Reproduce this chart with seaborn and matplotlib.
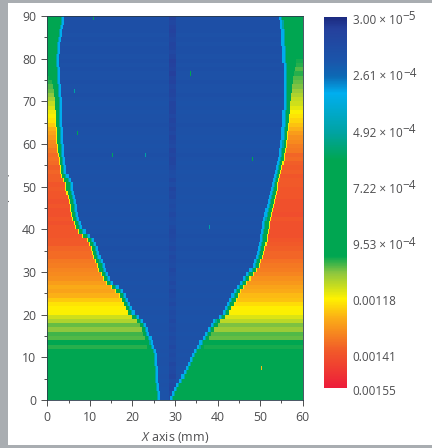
import numpy as np
import seaborn as sns
import matplotlib

matplotlib.use("Agg")
import matplotlib.pyplot as plt
from matplotlib.colors import LinearSegmentedColormap
from matplotlib.patches import Rectangle
from matplotlib.transforms import ScaledTranslation

# all values below are in units of 1e-4, rows are 1 mm bands from y = 0 up to y = 89
left_edge = [26.6, 26.5, 26.3, 26.2, 26.1, 26.0, 26.0, 25.9, 25.8, 25.8,
             25.7, 25.4, 25.1, 24.8, 24.5, 24.1, 23.7, 23.2, 22.5, 21.5,
             20.6, 20.1, 19.5, 19.0, 18.4, 17.8, 16.8, 15.5, 14.8, 14.3,
             13.8, 13.4, 13.0, 12.6, 12.3, 12.0, 11.5, 10.9, 10.0, 9.0,
             8.3, 7.9, 7.6, 7.3, 7.1, 6.9, 6.7, 6.5, 6.3, 6.1,
             5.9, 5.4, 4.9, 4.6, 4.4, 4.3, 4.2, 4.1, 4.0, 3.9,
             3.8, 3.8, 3.7, 3.7, 3.6, 3.6, 3.5, 3.5, 3.4, 3.4,
             3.4, 3.3, 3.2, 3.2, 3.1, 3.0, 2.9, 2.9, 2.8, 2.8,
             2.8, 2.9, 3.0, 3.1, 3.3, 3.4, 3.6, 3.8, 4.0, 4.1]
right_edge = [28.8, 29.3, 29.8, 30.3, 30.9, 31.5, 32.0, 32.6, 33.1, 33.5,
              33.9, 34.5, 35.2, 35.8, 36.4, 37.0, 37.7, 38.4, 39.0, 40.3,
              41.3, 41.8, 42.3, 42.8, 43.3, 43.7, 44.5, 45.3, 46.0, 46.8,
              47.6, 48.2, 48.6, 48.9, 49.2, 49.5, 49.7, 49.9, 50.1, 50.3,
              50.4, 50.6, 50.8, 51.1, 51.3, 51.5, 51.8, 52.0, 52.2, 52.5,
              52.7, 53.0, 53.3, 53.6, 53.8, 54.0, 54.2, 54.4, 54.6, 54.7,
              54.8, 54.9, 55.0, 55.1, 55.2, 55.3, 55.3, 55.3, 55.4, 55.4,
              55.4, 55.4, 55.4, 55.4, 55.4, 55.4, 55.4, 55.4, 55.4, 55.3,
              55.3, 55.3, 55.2, 55.1, 55.1, 55.0, 54.9, 54.8, 54.7, 54.6]
left_band = [1.5, 1.5, 1.5, 1.5, 1.5, 1.5, 1.5, 1.5, 1.5, 1.5,
             1.5, 1.5, 1.5, 1.5, 1.5, 1.5, 1.5, 1.5, 1.5, 1.5,
             1.5, 1.5, 1.5, 1.5, 1.5, 1.5, 1.5, 1.5, 1.5, 1.5,
             1.5, 1.5, 1.5, 1.5, 1.5, 1.5, 1.5, 1.5, 1.5, 1.5,
             1.5, 1.5, 1.5, 1.5, 1.5, 1.5, 1.5, 1.5, 1.5, 1.5,
             1.5, 1.4, 1.3, 1.3, 1.2, 1.2, 1.2, 1.3, 1.4, 1.5,
             1.5, 1.5, 1.5, 1.5, 1.5, 1.5, 1.5, 1.5, 1.6, 1.6,
             1.6, 1.7, 1.8, 1.9, 2.1, 2.4, 2.6, 2.8, 2.8, 2.8,
             2.8, 2.9, 3.0, 3.1, 3.3, 3.4, 3.6, 3.8, 4.0, 4.1]
right_band = [1.5, 1.5, 1.5, 1.5, 1.5, 1.5, 1.5, 1.5, 1.5, 1.5,
              1.5, 1.5, 1.5, 1.5, 1.5, 1.5, 1.5, 1.5, 1.5, 1.5,
              1.5, 1.5, 1.5, 1.5, 1.5, 1.5, 1.5, 1.5, 1.5, 1.5,
              1.5, 1.5, 1.5, 1.5, 1.5, 1.5, 1.5, 1.5, 1.5, 1.5,
              1.5, 1.5, 1.5, 1.5, 1.5, 1.5, 1.5, 1.5, 1.5, 1.5,
              1.3, 1.3, 1.2, 1.2, 1.2, 1.2, 1.2, 1.2, 1.2, 1.3,
              1.3, 1.3, 1.3, 1.4, 1.4, 1.5, 1.5, 1.6, 1.6, 1.7,
              1.8, 1.9, 2.0, 2.1, 2.3, 2.4, 2.6, 2.8, 3.0, 3.2,
              4.7, 5.0, 5.0, 5.0, 5.0, 5.0, 5.1, 5.2, 5.3, 5.4]
left_warm = [8.0, 8.0, 8.0, 8.0, 8.0, 8.0, 8.0, 8.0, 8.0, 8.0,
             8.0, 8.0, 10.3, 8.6, 10.5, 10.4, 10.8, 10.6, 11.1, 11.4,
             11.8, 11.9, 12.0, 12.3, 12.6, 12.8, 12.7, 12.9, 13.1, 13.2,
             13.3, 13.4, 13.5, 13.7, 13.7, 13.8, 14.0, 14.0, 14.1, 14.1,
             14.1, 14.2, 14.1, 14.2, 14.2, 14.1, 14.2, 14.1, 14.1, 14.0,
             14.1, 13.9, 13.9, 13.8, 13.9, 13.7, 13.6, 13.7, 13.5, 13.3,
             13.2, 13.0, 12.8, 12.6, 12.3, 12.0, 11.8, 11.7, 11.5, 11.3,
             11.0, 10.8, 10.6, 10.5, 10.3, 10.2, 9.6, 9.0, 8.0, 8.0,
             8.0, 8.0, 8.0, 8.0, 8.0, 8.0, 8.0, 8.0, 8.0, 8.0]
right_warm = [8.0, 8.0, 8.0, 8.0, 8.0, 8.0, 8.0, 8.0, 8.0, 8.0,
              8.0, 8.0, 10.2, 8.5, 10.6, 10.5, 10.9, 10.7, 11.2, 11.5,
              11.8, 11.9, 12.1, 12.4, 12.5, 12.7, 12.8, 13.0, 13.1, 13.3,
              13.4, 13.5, 13.6, 13.8, 13.8, 13.9, 14.0, 14.1, 14.2, 14.2,
              14.2, 14.2, 14.1, 14.3, 14.2, 14.2, 14.2, 14.1, 14.1, 14.1,
              14.0, 14.0, 14.1, 13.9, 14.0, 13.9, 13.7, 13.8, 13.5, 13.4,
              13.2, 13.1, 12.9, 12.6, 12.4, 12.2, 12.0, 11.8, 11.6, 11.4,
              11.3, 11.1, 10.9, 10.7, 10.6, 10.5, 10.3, 10.5, 10.3, 10.2,
              8.0, 8.0, 8.0, 8.0, 8.0, 8.0, 8.0, 8.0, 8.0, 8.0]
blue_level = [1.9, 1.9, 1.9, 1.8, 1.9, 1.8, 1.9, 1.9, 1.8, 1.8,
              1.9, 1.8, 1.9, 1.9, 1.8, 1.9, 1.8, 1.8, 1.9, 1.9,
              1.8, 1.9, 1.8, 1.8, 1.9, 1.8, 1.8, 1.9, 1.8, 1.8,
              1.9, 1.8, 1.7, 1.8, 1.8, 1.7, 1.8, 1.8, 1.7, 1.8,
              1.9, 1.8, 1.9, 1.8, 1.9, 1.9, 1.8, 1.9, 1.8, 1.8,
              1.9, 1.8, 1.8, 1.9, 1.8, 1.9, 1.8, 1.7, 1.8, 1.9,
              1.8, 1.9, 1.8, 1.8, 1.7, 1.8, 1.8, 1.9, 1.8, 1.9,
              1.8, 1.7, 1.8, 1.8, 1.7, 1.8, 1.8, 1.7, 1.8, 1.7,
              1.8, 1.7, 1.7, 1.8, 1.7, 1.8, 1.7, 1.7, 1.7, 1.7]
centre_level = [1.2, 1.3, 1.1, 1.2, 1.4, 1.1, 1.3, 1.4, 1.2, 1.5,
                1.4, 1.5, 1.3, 1.5, 1.4, 1.6, 1.4, 1.5, 1.3, 1.5,
                1.4, 1.6, 1.3, 1.5, 1.4, 1.2, 1.5, 1.3, 1.5, 1.4,
                1.2, 1.5, 1.4, 1.3, 1.5, 1.3, 1.5, 1.4, 1.3, 1.2,
                1.4, 1.6, 1.5, 1.3, 1.5, 1.4, 1.5, 1.2, 1.3, 1.1,
                1.5, 1.2, 1.6, 1.5, 1.3, 1.1, 1.0, 1.2, 1.0, 1.4,
                1.2, 1.0, 1.3, 1.1, 1.2, 1.0, 1.3, 1.0, 1.1, 1.0,
                1.3, 1.1, 1.0, 1.2, 0.9, 1.1, 0.8, 1.0, 0.9, 0.8,
                1.1, 1.3, 1.1, 1.0, 1.2, 1.1, 0.9, 1.0, 1.2, 0.9]
speck_x = [10.8, 33.7, 6.3, 7.1, 15.3, 23.0, 48.0, 38.2, 50.3]
speck_y = [89, 76, 72, 62, 57, 57, 56, 40, 7]
speck_value = [6.5, 6.5, 5.0, 7.0, 6.0, 5.0, 7.0, 5.0, 12.5]

x_ticks = [0, 10, 20, 30, 40, 50, 60]
x_minor = [5, 15, 25, 35, 45, 55]
y_ticks = [0, 10, 20, 30, 40, 50, 60, 70, 80, 90]
y_minor = [5, 15, 25, 35, 45, 55, 65, 75, 85]
cbar_values = [0.3, 2.61, 4.92, 7.22, 9.53, 11.8, 14.1, 15.5]
cbar_labels = ["3.00 × 10", "2.61 × 10", "4.92 × 10", "7.22 × 10", "9.53 × 10",
               "0.00118", "0.00141", "0.00155"]
cbar_powers = ["−5", "−4", "−4", "−4", "−4", "", "", ""]

color_stops = [(0.0, "#1b2a80"), (0.03, "#25409c"), (0.12, "#1a56ab"), (0.16, "#0c6ab5"),
               (0.205, "#00aeef"), (0.31, "#00a3a3"), (0.385, "#00a651"), (0.645, "#00a651"),
               (0.69, "#8dc63f"), (0.76, "#fff200"), (0.81, "#fbb016"), (0.9, "#f15a29"),
               (1.0, "#ed1c3a")]
cell = 0.25  # mm per column

sns.set_theme(style="white")
plt.rcParams["font.family"] = ["Open Sans", "DejaVu Sans"]
plt.rcParams["mathtext.fontset"] = "custom"
plt.rcParams["mathtext.rm"] = "Open Sans"
plt.rcParams["mathtext.it"] = "Open Sans:italic"
plt.rcParams["mathtext.default"] = "regular"
text_color = "#4d4d4f"

centers = (np.arange(240) + 0.5) * cell
grid = np.zeros((90, 240))
for row in range(90):
    lo, hi = left_edge[row], right_edge[row]
    lo_warm, hi_warm = lo - left_band[row], hi + right_band[row]
    grid[row, centers < lo] = 8.0
    grid[row, centers >= hi] = 8.0
    grid[row, (centers >= lo) & (centers < hi)] = blue_level[row]
    grid[row, (centers >= 28.4) & (centers < 30.2) & (centers >= lo) & (centers < hi)] = centre_level[row]
    grid[row, centers < lo_warm] = left_warm[row]
    grid[row, centers >= hi_warm] = right_warm[row]
    # warm side fades through yellow before it reaches the green band
    if left_warm[row] > 11.8:
        grid[row, (centers >= lo_warm - 0.25) & (centers < lo_warm)] = 11.8
    if right_warm[row] > 11.8:
        grid[row, (centers >= hi_warm) & (centers < hi_warm + 0.25)] = 11.8
    # thin cyan rim between the blue and green parts
    grid[row, (centers >= lo - 0.5) & (centers < lo)] = 3.4
    grid[row, (centers >= lo - 0.75) & (centers < lo - 0.5)] = 5.0
    grid[row, (centers >= hi) & (centers < hi + 0.5)] = 3.4
    grid[row, (centers >= hi + 0.5) & (centers < hi + 0.75)] = 5.0
for sx, sy, sv in zip(speck_x, speck_y, speck_value):
    grid[sy, int(sx / cell)] = sv

cmap = LinearSegmentedColormap.from_list("ansys", color_stops, N=512)

fig = plt.figure(figsize=(4.32, 4.48), dpi=100, facecolor="white")
ax = fig.add_axes([47.3 / 432, 1 - 400 / 448, 255.4 / 432, 384 / 448])
cax = fig.add_axes([324 / 432, 1 - 388 / 448, 23 / 432, 371 / 448])

sns.heatmap(grid, ax=ax, cmap=cmap, vmin=0.3, vmax=15.5, cbar_ax=cax,
            xticklabels=False, yticklabels=False, rasterized=True,
            cbar_kws={"ticks": cbar_values})
ax.invert_yaxis()

ax.set_xticks([v / cell for v in x_ticks])
ax.set_xticks([v / cell for v in x_minor], minor=True)
ax.set_xticklabels([str(v) for v in x_ticks], fontsize=8.8, color=text_color)
ax.set_yticks(y_ticks)
ax.set_yticks(y_minor, minor=True)
ax.set_yticklabels([str(v) for v in y_ticks], fontsize=8.8, color=text_color, rotation=0)
ax.tick_params(which="major", length=4, width=0.6, color="#333333", bottom=True, left=True, pad=4)
ax.tick_params(which="minor", length=2.4, width=0.6, color="#333333", bottom=True, left=True)
for side in ax.spines.values():
    side.set_visible(True)
    side.set_linewidth(0.6)
    side.set_color("#2b3a4a")
ax.set_xlabel(r"$\mathit{X}$ axis (mm)", fontsize=9, color=text_color, labelpad=4)

cbar = ax.collections[0].colorbar
cax.invert_yaxis()
cbar.set_ticks(cbar_values)
cbar.set_ticklabels(cbar_labels)
cbar.ax.tick_params(length=0, labelsize=8.5, labelcolor=text_color, pad=4)
cbar.outline.set_visible(False)
nudge = ScaledTranslation(0, -2 / 100, fig.dpi_scale_trans)
for label in cbar.ax.get_yticklabels():
    label.set_transform(label.get_transform() + nudge)

# exponents are nearly full size in the source, mathtext makes them too small
fig.canvas.draw()
for label, power in zip(cbar.ax.get_yticklabels(), cbar_powers):
    if power:
        box = label.get_window_extent()
        fig.text((box.x1 + 0.5) / 432, (box.y0 + 3.5) / 448, power, fontsize=8.5, color=text_color,
                 ha="left", va="bottom")

# ylabel sits half under the grey page edge in the source
fig.text(12.5 / 432, 1 - 205 / 448, r"$\mathit{Y}$ axis (mm)", rotation=90, ha="right", va="center",
         fontsize=9, color=text_color, zorder=1)
for x0, y0, w, h in [(0, 0, 8, 448), (0, 445, 432, 3), (0, 0, 432, 3)]:
    fig.add_artist(Rectangle((x0 / 432, 1 - (y0 + h) / 448), w / 432, h / 448, transform=fig.transFigure,
                             facecolor="#a9adb1", edgecolor="none", zorder=5))

plt.savefig("out.png", dpi=100)
